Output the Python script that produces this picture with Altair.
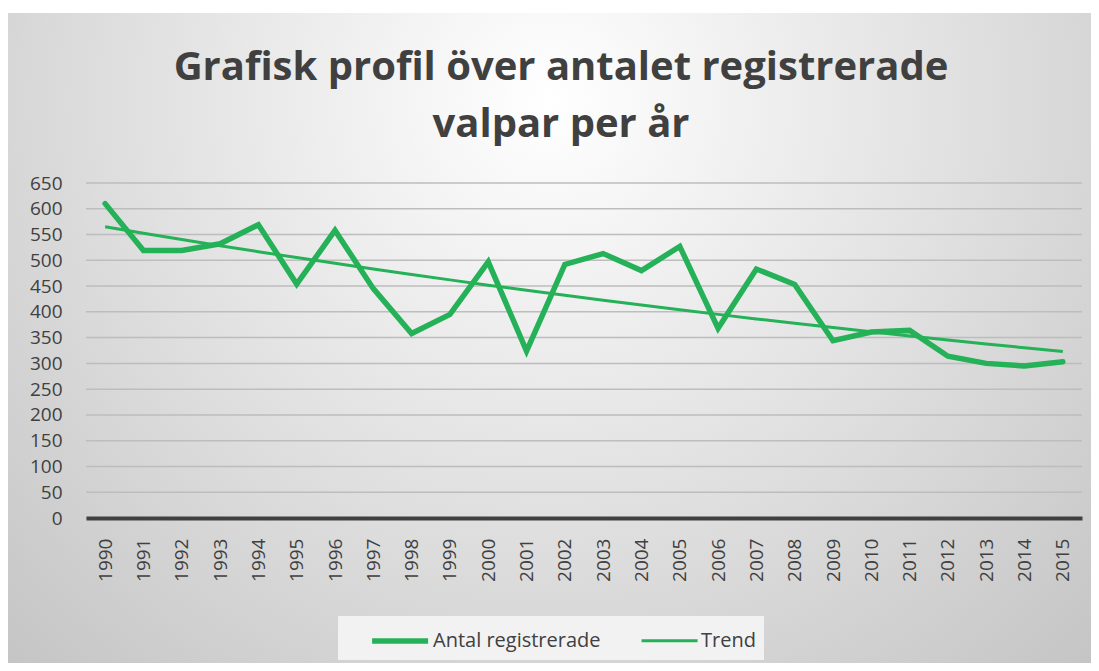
import altair as alt
import pandas as pd

# ---- data ----
years = list(range(1990, 2016))
registered = [610, 519, 519, 532, 569, 454, 558, 445, 358, 395, 497, 324, 492,
              513, 480, 527, 368, 483, 453, 344, 361, 364, 314, 300, 295, 303]
y_ticks = list(range(0, 700, 50))
series_names = ["Antal registrerade", "Trend"]
title_lines = ["Grafisk profil över antalet registrerade", "valpar per år"]

GREEN = "#25b157"
TEXT = "#404040"
W, H = 996, 335

df_main = pd.DataFrame({"year": years, "value": registered, "series": series_names[0]})
df_grid = pd.DataFrame({"value": y_ticks})

gradient = {
    "gradient": "radial",
    "x1": 0.5, "y1": 0.067, "r1": 0,
    "x2": 0.5, "y2": 0.067, "r2": 0.65,
    "stops": [
        {"offset": 0, "color": "#ffffff"},
        {"offset": 1, "color": "#c0c0c0"},
    ],
}

x_scale = alt.Scale(domain=[1989.5, 2015.5], nice=False, zero=False)
y_scale = alt.Scale(domain=[0, 650], nice=False, zero=True)

x_axis = alt.Axis(values=years, format="d", labelAngle=270, ticks=False, grid=False,
                  domainColor=TEXT, domainWidth=4, labelFont="Open Sans",
                  labelFontSize=19, labelColor=TEXT, labelPadding=20, title=None,
                  zindex=1, labelOverlap=False, labelFlush=False)
y_axis = alt.Axis(values=y_ticks, domain=False, ticks=False, grid=False,
                  labelFont="Open Sans", labelFontSize=19, labelColor=TEXT,
                  labelPadding=24, title=None, zindex=1)

legend = alt.Legend(title=None, orient="none", legendX=252, legendY=433,
                    direction="horizontal", fillColor="#f2f2f2", padding=8,
                    symbolType="M0.65,0H4.65", symbolSize=784,
                    labelFont="Open Sans", labelFontSize=20, labelColor=TEXT,
                    labelOffset=53, columnPadding=16, labelLimit=300, zindex=1)

color = alt.Color("series:N", scale=alt.Scale(domain=series_names, range=[GREEN, GREEN]),
                  legend=legend)
width_enc = alt.StrokeWidth("series:N", scale=alt.Scale(domain=series_names, range=[5.5, 3]),
                            legend=legend)

bg = alt.Chart(pd.DataFrame({"k": [0]})).mark_rect(fill=gradient).encode(
    x=alt.value(-78), x2=alt.value(W + 9), y=alt.value(-170), y2=alt.value(1130)
)

grid = alt.Chart(df_grid).mark_rule(color="#bdbdbd", strokeWidth=1.5).encode(
    y=alt.Y("value:Q", scale=y_scale, axis=y_axis)
)

main_line = alt.Chart(df_main).mark_line(strokeCap="round", strokeJoin="miter").encode(
    x=alt.X("year:Q", scale=x_scale, axis=x_axis),
    y=alt.Y("value:Q", scale=y_scale, axis=y_axis),
    color=color,
    strokeWidth=width_enc,
)

# exponential trend line (least squares on log values), computed by Vega-Lite transforms
trend_line = (
    alt.Chart(df_main)
    .transform_calculate(ly="log(datum.value)")
    .transform_joinaggregate(mx="mean(year)", mly="mean(ly)")
    .transform_calculate(dx="datum.year - datum.mx")
    .transform_calculate(dxy="datum.dx * (datum.ly - datum.mly)", dxx="datum.dx * datum.dx")
    .transform_joinaggregate(sxy="sum(dxy)", sxx="sum(dxx)")
    .transform_calculate(trend="exp(datum.mly + datum.sxy / datum.sxx * datum.dx)",
                         series="'Trend'")
    .mark_line(strokeCap="butt")
    .encode(
        x=alt.X("year:Q", scale=x_scale, axis=x_axis),
        y=alt.Y("trend:Q", scale=y_scale, axis=y_axis),
        color=color,
        strokeWidth=width_enc,
    )
)

chart = alt.layer(bg, grid, main_line, trend_line).properties(
    width=W, height=H,
    title=alt.TitleParams(text=title_lines, font="Open Sans", fontSize=40, fontWeight="bold",
                          color=TEXT, lineHeight=57, anchor="middle", frame="group",
                          dx=-23, dy=168, offset=36, zindex=1),
    padding={"left": 78, "top": 175, "right": 9, "bottom": 145},
    autosize=alt.AutoSizeParams(type="none"),
    background="white",
).configure_view(stroke=None)

chart.save("out.html", embed_options={"renderer": "svg", "actions": False})
